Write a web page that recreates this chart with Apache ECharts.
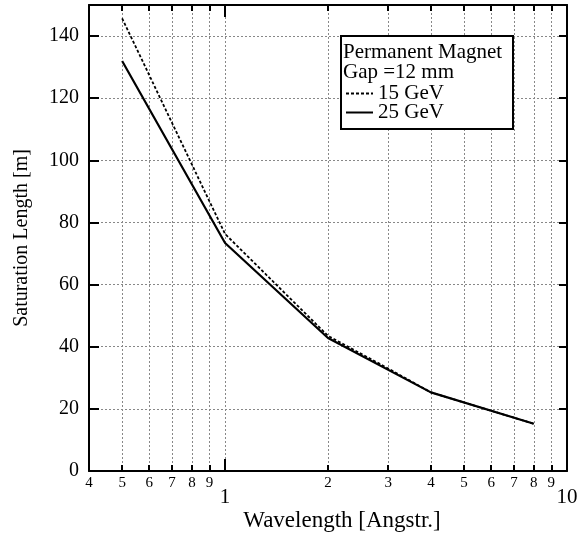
<!DOCTYPE html>
<html>
<head>
<meta charset="utf-8">
<script src="https://cdn.jsdelivr.net/npm/echarts@6/dist/echarts.min.js"></script>
<style>
html,body{margin:0;padding:0;background:#fff;}
#chart{width:588px;height:533px;}
</style>
</head>
<body>
<div id="chart"></div>
<script>
// Data
const wavelength15 = [0.5, 1, 2, 3, 4, 8];
const length15 = [145.7, 76.3, 43.5, 33.0, 25.3, 15.2];
const wavelength25 = [0.5, 1, 2, 4, 8];
const length25 = [132.0, 73.4, 42.8, 25.3, 15.2];
const xTickValues = [0.4, 0.5, 0.6, 0.7, 0.8, 0.9, 1, 2, 3, 4, 5, 6, 7, 8, 9, 10];
const xTickLabels = ['4', '5', '6', '7', '8', '9', '1', '2', '3', '4', '5', '6', '7', '8', '9', '10'];
const xMajorValues = [1, 10];
const legendTitle = ['Permanent Magnet', 'Gap =12 mm'];
const seriesNames = ['15 GeV', '25 GeV'];

const FONT = '"Liberation Serif", "Times New Roman", serif';
const chart = echarts.init(document.getElementById('chart'), null, {renderer: 'canvas'});

function labelFor(v) {
  for (let i = 0; i < xTickValues.length; i++) {
    if (Math.abs(xTickValues[i] - v) < 1e-6) {
      const t = xTickLabels[i];
      return (xMajorValues.indexOf(xTickValues[i]) >= 0) ? '{b|' + t + '}' : '{a|' + t + '}';
    }
  }
  return '';
}
const gridLine = {show: true, lineStyle: {color: '#888', type: [2, 2], width: 1}};
const grid = {left: 89, right: 21, top: 5, bottom: 62, containLabel: false, outerBoundsMode: 'none'};

const option = {
  animation: false,
  backgroundColor: '#fff',
  grid: grid,
  title: {
    text: legendTitle.join('\n'),
    left: 343, top: 42, padding: 0, z: 10,
    textStyle: {fontFamily: FONT, fontSize: 21, fontWeight: 'normal', color: '#000', lineHeight: 20}
  },
  legend: {
    data: seriesNames,
    orient: 'vertical', left: 345, top: 83, padding: 0, z: 10,
    itemWidth: 27, itemHeight: 12, itemGap: -2,
    itemStyle: {opacity: 0},
    textStyle: {fontFamily: FONT, fontSize: 21, color: '#000', lineHeight: 19},
    selectedMode: false
  },
  graphic: [{
    type: 'rect', left: 340, top: 35, z: 5,
    shape: {width: 172, height: 93},
    style: {fill: '#fff', stroke: '#000', lineWidth: 2}
  }],
  xAxis: [
    {
      type: 'log', logBase: 10, min: 0.4, max: 10, position: 'bottom',
      name: 'Wavelength [Angstr.]', nameLocation: 'middle', nameGap: 38, nameMoveOverlap: false,
      nameTextStyle: {fontFamily: FONT, fontSize: 23, color: '#000', padding: [0, 0, 0, 28]},
      axisLine: {lineStyle: {color: '#000', width: 2}},
      axisTick: {inside: true, length: 6, lineStyle: {color: '#000', width: 2}, customValues: xTickValues},
      axisLabel: {
        customValues: xTickValues, margin: 5, color: '#000', fontFamily: FONT,
        formatter: labelFor,
        rich: {
          a: {fontFamily: FONT, fontSize: 15, color: '#000'},
          b: {fontFamily: FONT, fontSize: 21, color: '#000', padding: [11, 0, 0, 0]}
        }
      },
      splitLine: gridLine
    },
    {
      type: 'log', logBase: 10, min: 0.4, max: 10, position: 'bottom',
      axisLine: {show: false},
      axisTick: {inside: true, length: 12, lineStyle: {color: '#000', width: 2}, customValues: xMajorValues},
      axisLabel: {show: false}, splitLine: {show: false}
    },
    {
      type: 'log', logBase: 10, min: 0.4, max: 10, position: 'top',
      axisLine: {lineStyle: {color: '#000', width: 2}},
      axisTick: {inside: true, length: 6, lineStyle: {color: '#000', width: 2}, customValues: xTickValues},
      axisLabel: {show: false}, splitLine: {show: false}
    },
    {
      type: 'log', logBase: 10, min: 0.4, max: 10, position: 'top',
      axisLine: {show: false},
      axisTick: {inside: true, length: 12, lineStyle: {color: '#000', width: 2}, customValues: xMajorValues},
      axisLabel: {show: false}, splitLine: {show: false}
    }
  ],
  yAxis: [
    {
      type: 'value', min: 0, max: 150, interval: 20, position: 'left',
      name: 'Saturation Length [m]', nameLocation: 'middle', nameGap: 57, nameMoveOverlap: false,
      nameTextStyle: {fontFamily: FONT, fontSize: 20, color: '#000'},
      axisLine: {show: true, lineStyle: {color: '#000', width: 2}},
      axisTick: {show: true, inside: true, length: 10, lineStyle: {color: '#000', width: 2}},
      axisLabel: {fontFamily: FONT, fontSize: 20, color: '#000', margin: 10,
        formatter: v => (v > 140 ? '' : String(v))},
      splitLine: gridLine
    },
    {
      type: 'value', min: 0, max: 150, interval: 20, position: 'right',
      axisLine: {show: true, lineStyle: {color: '#000', width: 2}},
      axisTick: {show: true, inside: true, length: 8, lineStyle: {color: '#000', width: 2}},
      axisLabel: {show: false}, splitLine: {show: false}
    }
  ],
  series: [
    {
      name: seriesNames[0], type: 'line', xAxisIndex: 0, yAxisIndex: 0,
      data: wavelength15.map((x, i) => [x, length15[i]]),
      symbol: 'none', z: 3,
      lineStyle: {color: '#000', width: 1.8, type: [3, 2]},
      itemStyle: {color: '#000'}
    },
    {
      name: seriesNames[1], type: 'line', xAxisIndex: 0, yAxisIndex: 0,
      data: wavelength25.map((x, i) => [x, length25[i]]),
      symbol: 'none', z: 4,
      lineStyle: {color: '#000', width: 2.2},
      itemStyle: {color: '#000'}
    }
  ]
};
chart.setOption(option);
</script>
</body>
</html>
